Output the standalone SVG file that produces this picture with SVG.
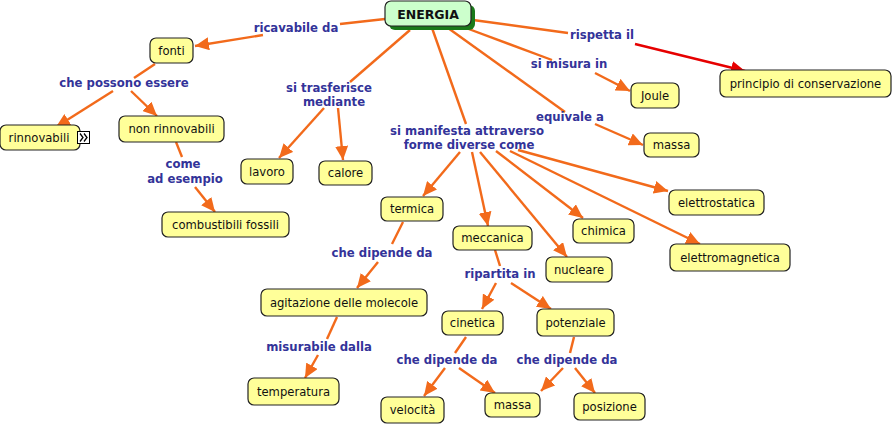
<svg xmlns="http://www.w3.org/2000/svg" width="894" height="425" viewBox="0 0 894 425">
<style>
.n rect{fill:#ffff99;stroke:#222;stroke-width:1.2}
.n text{font-family:"DejaVu Sans",Verdana,sans-serif;font-size:11.6px;fill:#111;text-anchor:middle;dominant-baseline:central}
.lb{font-family:"DejaVu Sans",Verdana,sans-serif;font-size:11.7px;font-weight:bold;fill:#333399;text-anchor:middle;dominant-baseline:central}
.c{fill:none;stroke:#f26a1b;stroke-width:2.4}
.ca{fill:none;stroke:#f26a1b;stroke-width:2.4;marker-end:url(#ah)}
.cr{fill:none;stroke:#e60000;stroke-width:2.4;marker-end:url(#ahr)}
</style>
<defs>
<marker id="ah" markerUnits="userSpaceOnUse" markerWidth="15" markerHeight="13" refX="14" refY="6.5" orient="auto" viewBox="0 0 15 13"><path d="M0,0 L14,6.5 L0,13 z" fill="#f26a1b"/></marker>
<marker id="ahr" markerUnits="userSpaceOnUse" markerWidth="15" markerHeight="13" refX="14" refY="6.5" orient="auto" viewBox="0 0 15 13"><path d="M0,0 L14,6.5 L0,13 z" fill="#e60000"/></marker>
</defs>
<rect width="894" height="425" fill="#fff"/>
<g id="connectors">
<path class="c" d="M385,19 L340,24"/>
<path class="ca" d="M263,35 L195,46"/>
<path class="c" d="M155,64 L134,78"/>
<path class="ca" d="M113,91 L56,127"/>
<path class="ca" d="M131,91 L157,116"/>
<path class="c" d="M176,142 L182,157"/>
<path class="ca" d="M195,187 L215,212"/>
<path class="c" d="M410,30 L350,82"/>
<path class="ca" d="M324,108 L279,158"/>
<path class="ca" d="M338,108 L343,160"/>
<path class="c" d="M432,28 L466,124"/>
<path class="ca" d="M460,152 L423,196"/>
<path class="ca" d="M472,152 L488,226"/>
<path class="ca" d="M480,152 L567,257"/>
<path class="ca" d="M496,151 L583,218"/>
<path class="ca" d="M510,151 L700,244"/>
<path class="ca" d="M518,150 L668,191"/>
<path class="c" d="M448,28 L565,112"/>
<path class="ca" d="M595,124 L643,145"/>
<path class="c" d="M466,28 L552,60"/>
<path class="ca" d="M595,73 L630,91"/>
<path class="c" d="M473,20 L568,33"/>
<path class="cr" d="M635,44 L745,71"/>
<path class="c" d="M403,222 L392,244"/>
<path class="ca" d="M378,262 L357,288"/>
<path class="c" d="M495,250 L500,266"/>
<path class="ca" d="M496,283 L482,309"/>
<path class="ca" d="M511,283 L551,309"/>
<path class="c" d="M337,317 L327,339"/>
<path class="ca" d="M318,355 L305,378"/>
<path class="c" d="M466,337 L455,353"/>
<path class="ca" d="M445,368 L424,396"/>
<path class="ca" d="M459,368 L495,393"/>
<path class="c" d="M574,337 L570,353"/>
<path class="ca" d="M563,368 L541,391"/>
<path class="ca" d="M575,368 L595,393"/>
</g>
<g id="labels">
<text class="lb" x="296" y="28">ricavabile da</text>
<text class="lb" x="124" y="83">che possono essere</text>
<text class="lb" x="329" y="88">si trasferisce</text>
<text class="lb" x="334" y="102">mediante</text>
<text class="lb" x="183" y="164">come</text>
<text class="lb" x="185" y="179">ad esempio</text>
<text class="lb" x="467" y="131">si manifesta attraverso</text>
<text class="lb" x="469" y="145">forme diverse come</text>
<text class="lb" x="602" y="35">rispetta il</text>
<text class="lb" x="569" y="64">si misura in</text>
<text class="lb" x="570" y="117">equivale a</text>
<text class="lb" x="382" y="253">che dipende da</text>
<text class="lb" x="500" y="274">ripartita in</text>
<text class="lb" x="319" y="347">misurabile dalla</text>
<text class="lb" x="447" y="360">che dipende da</text>
<text class="lb" x="567" y="360">che dipende da</text>
</g>
<g id="energia">
<rect x="389" y="5" width="86" height="25" rx="6" fill="#1a7a1a"/>
<rect x="385" y="1" width="86" height="25" rx="6" fill="#ccffcc" stroke="#222" stroke-width="1.2"/>
<text x="428" y="14" font-family="'DejaVu Sans',Verdana,sans-serif" font-size="12.5px" font-weight="bold" fill="#111" text-anchor="middle" dominant-baseline="central">ENERGIA</text>
</g>
<g id="fonti" class="n"><rect x="150" y="38" width="43" height="25" rx="6"/><text x="171.5" y="50.5">fonti</text></g>
<g id="rinnovabili" class="n"><rect x="0" y="125" width="80" height="25" rx="6"/><text x="39" y="137.5">rinnovabili</text>
<rect x="77.5" y="131.5" width="12" height="12" style="fill:#fff;stroke:#000;stroke-width:1"/>
<path d="M80,133.5 L83,137.5 L80,141.5 M84,133.5 L87,137.5 L84,141.5" fill="none" stroke="#000" stroke-width="1.3"/></g>
<g id="non_rinnovabili" class="n"><rect x="119" y="116" width="105" height="26" rx="6"/><text x="171.5" y="129">non rinnovabili</text></g>
<g id="combustibili" class="n"><rect x="162" y="212" width="127" height="25" rx="6"/><text x="225.5" y="224.5">combustibili fossili</text></g>
<g id="lavoro" class="n"><rect x="241" y="159" width="52" height="25" rx="6"/><text x="267" y="171.5">lavoro</text></g>
<g id="calore" class="n"><rect x="319" y="161" width="53" height="24" rx="6"/><text x="345.5" y="173">calore</text></g>
<g id="termica" class="n"><rect x="381" y="197" width="62" height="24" rx="6"/><text x="412" y="209">termica</text></g>
<g id="meccanica" class="n"><rect x="453" y="226" width="79" height="24" rx="6"/><text x="492.5" y="238">meccanica</text></g>
<g id="nucleare" class="n"><rect x="546" y="257" width="66" height="25" rx="6"/><text x="579" y="269.5">nucleare</text></g>
<g id="chimica" class="n"><rect x="573" y="219" width="61" height="24" rx="6"/><text x="603.5" y="231">chimica</text></g>
<g id="elettrostatica" class="n"><rect x="669" y="190" width="95" height="25" rx="6"/><text x="716.5" y="202.5">elettrostatica</text></g>
<g id="elettromagnetica" class="n"><rect x="670" y="244" width="120" height="27" rx="6"/><text x="730" y="257.5">elettromagnetica</text></g>
<g id="massa1" class="n"><rect x="644" y="133" width="55" height="24" rx="6"/><text x="671.5" y="145">massa</text></g>
<g id="joule" class="n"><rect x="631" y="83" width="48" height="25" rx="6"/><text x="655" y="95.5">Joule</text></g>
<g id="principio" class="n"><rect x="720" y="70" width="171" height="27" rx="6"/><text x="805.5" y="83.5">principio di conservazione</text></g>
<g id="agitazione" class="n"><rect x="261" y="289" width="166" height="27" rx="6"/><text x="344" y="302.5">agitazione delle molecole</text></g>
<g id="temperatura" class="n"><rect x="248" y="378" width="91" height="27" rx="6"/><text x="293.5" y="391.5">temperatura</text></g>
<g id="velocita" class="n"><rect x="381" y="397" width="63" height="26" rx="6"/><text x="412.5" y="410">velocità</text></g>
<g id="cinetica" class="n"><rect x="442" y="311" width="61" height="24" rx="6"/><text x="472.5" y="323">cinetica</text></g>
<g id="potenziale" class="n"><rect x="537" y="309" width="77" height="27" rx="6"/><text x="575.5" y="322.5">potenziale</text></g>
<g id="massa2" class="n"><rect x="485" y="393" width="55" height="24" rx="6"/><text x="512.5" y="405">massa</text></g>
<g id="posizione" class="n"><rect x="574" y="393" width="71" height="27" rx="6"/><text x="609.5" y="406.5">posizione</text></g>
</svg>
